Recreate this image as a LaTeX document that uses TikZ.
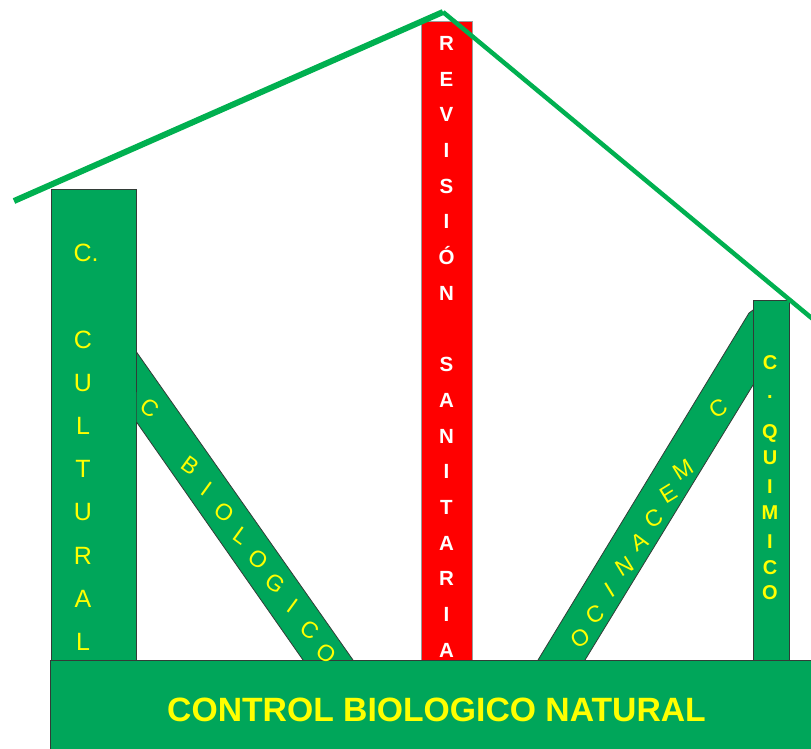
\documentclass[tikz,border=0pt]{standalone}
\usepackage{fontspec}
\setmainfont{Liberation Sans}
\definecolor{cbgreen}{RGB}{0,166,90}
\definecolor{roofgreen}{RGB}{0,176,80}
\definecolor{cbyellow}{RGB}{255,255,0}
\definecolor{cbred}{RGB}{255,0,0}
\definecolor{cbedge}{RGB}{50,60,55}

\begin{document}
\begin{tikzpicture}[x=1pt,y=-1pt,
    bar/.style={fill=cbgreen,draw=cbedge,line width=.8pt},
    edge/.style={draw=cbedge,line width=.8pt},
    roof/.style={draw=roofgreen},
    colletter/.style={inner sep=0pt,text=cbyellow,font=\fontsize{25}{30}\selectfont},
    redletter/.style={inner sep=0pt,anchor=base,text=white,font=\bfseries\fontsize{20.5}{24}\selectfont},
    quiletter/.style={inner sep=0pt,text=cbyellow,font=\bfseries\fontsize{20}{24}\selectfont},
    diagletter/.style={inner sep=0pt,text=cbyellow,font=\fontsize{23}{28}\selectfont}]
    \useasboundingbox (0,0) rectangle (811,748);
    \clip (0,0) rectangle (811,748);
    % columns and bars
    \draw[bar] (51,189) rectangle (136.5,660);
    \fill[cbgreen] (136.5,352) -- (353,660) -- (303,660) -- (136.5,422) -- cycle;
    \draw[edge] (136.5,392) -- (136.5,352) -- (353,660) (303,660) -- (136.5,422);
    \fill[cbgreen] (749,313) -- (753,310) -- (753,385) -- (585,660) -- (538,660) -- cycle;
    \draw[edge] (753,310) -- (749,313) -- (538,660) (753,385) -- (585,660);
    \draw[bar] (753,300) rectangle (789,660);
    \draw[fill=cbred,draw=cbedge!50,line width=.8pt] (421,21) rectangle (472,660);
    \draw[bar] (50,660) rectangle (830,760);
    % roof
    \draw[roof,line width=6pt] (14,201) -- (443,12);
    \draw[roof,line width=4.5pt] (443,12) -- (820,325);
    % C. CULTURAL
    \node[colletter] (cul0) at (86,253) {C.};
    \foreach \ch [count=\k from 2] in {C,U,L,T,U,R,A,L}
      \node[colletter] (cul\k) at (83,253+43.2*\k) {\ch};
    % REVISION SANITARIA
    \foreach \ch [count=\k from 0] in {R,E,V,I,S,I,Ó,N}
      \node[redletter] (rev\k) at (446.5,50.3+35.7*\k) {\ch};
    \foreach \ch [count=\k from 9] in {S,A,N,I,T,A,R,I,A}
      \node[redletter] (san\k) at (446.5,50.3+35.7*\k) {\ch};
    % C. QUIMICO
    \foreach \ch/\y [count=\k] in {C/363,./397,Q/433,U/458,I/487,M/513,I/542,C/568,O/593}
      \node[quiletter] (qui\k) at (770,\y) {\ch};
    % C BIOLOGICO
    \node[diagletter,rotate=-36] (bio) at (150,408) {C};
    \foreach \ch [count=\k from 0] in {B,I,O,L,O,G,I,C,O}
      \node[diagletter,rotate=-36] (bio\k) at (190+17.1*\k,466+23.4*\k) {\ch};
    % C MECANICO
    \node[diagletter,rotate=31.5] (mec) at (718,408) {C};
    \foreach \ch [count=\k from 0] in {M,E,C,A,N,I,C,O}
      \node[diagletter,rotate=31.5] (mec\k) at (683-14.7*\k,470+24*\k) {\ch};
    % base
    \node[text=cbyellow,font=\bfseries\fontsize{33.7}{40}\selectfont] (natural) at (436.5,710) {CONTROL BIOLOGICO NATURAL};
\end{tikzpicture}
\end{document}
